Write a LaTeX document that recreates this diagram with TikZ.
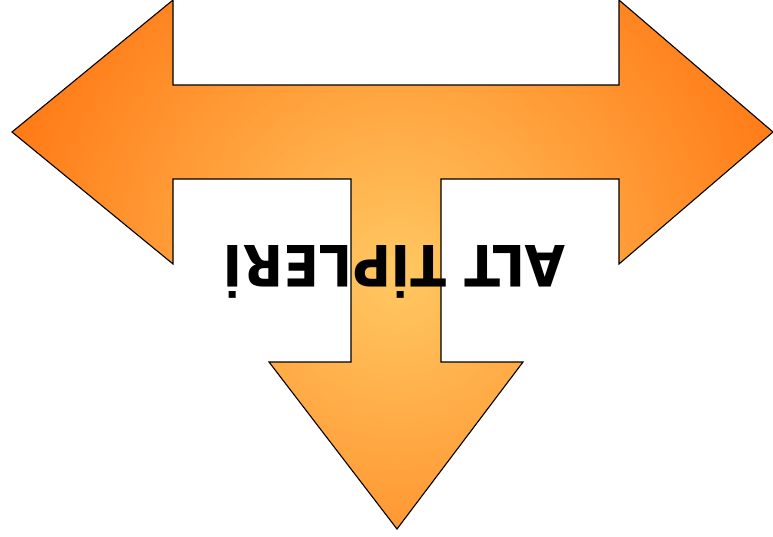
\documentclass[tikz,border=0pt]{standalone}
\usepackage{fontspec}
\newfontfamily\labelfont{DejaVu Sans}
\definecolor{arrowinner}{HTML}{FFC862}
\definecolor{arrowouter}{HTML}{FF7814}
\pgfdeclareradialshading{tshade}{\pgfpoint{0bp}{0bp}}{color(0bp)=(arrowinner); color(25bp)=(arrowouter); color(50bp)=(arrowouter)}
\tikzset{
  arrowline/.style={draw=black, line width=1.1pt, line join=miter},
  labeltext/.style={font=\labelfont\bfseries\fontsize{57}{60}\selectfont, text=black, inner sep=0pt}
}
\begin{document}
\begin{tikzpicture}[x=1pt,y=-1pt]
\useasboundingbox (0,0) rectangle (773,536);
\def\tshape{(12,132) -- (173,0) -- (173,85) -- (619,85) -- (619,0) -- (773,132) -- (619,264) -- (619,179) -- (441,179) -- (441,362) -- (523,362) -- (397,529) -- (269,362) -- (351,362) -- (351,179) -- (173,179) -- (173,264) -- cycle}
\begin{scope}
  \clip \tshape;
  \shade[shading=tshade] (397,275) circle (420);
\end{scope}
\draw[arrowline] \tshape;
\node[labeltext, anchor=base, rotate=180, xscale=0.92] (label) at (394.5,245) {ALT TİPLERİ};
\end{tikzpicture}
\end{document}
